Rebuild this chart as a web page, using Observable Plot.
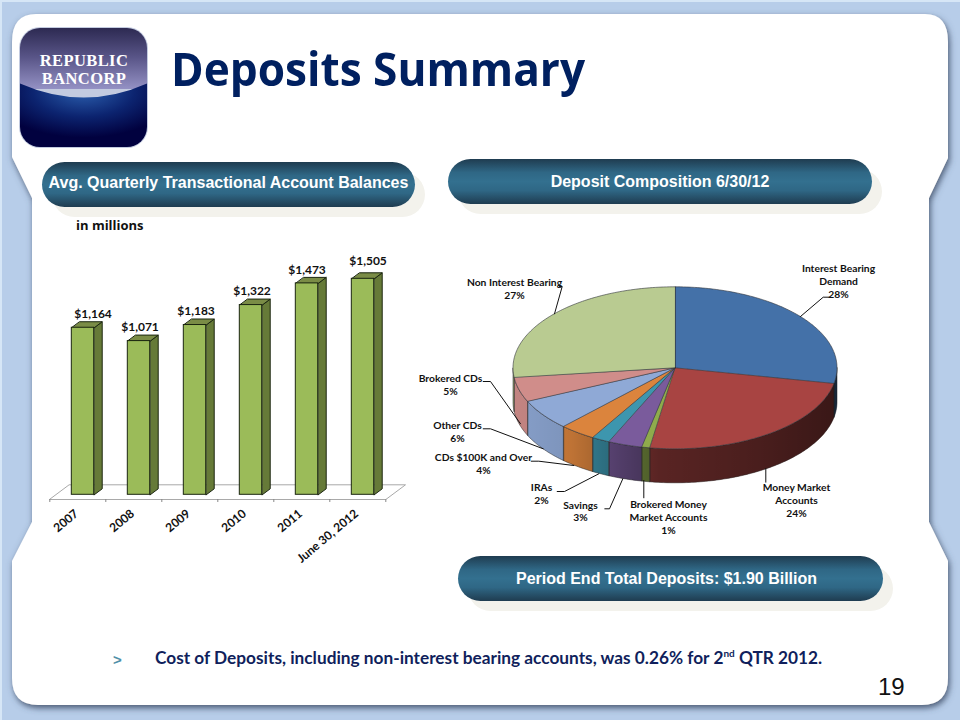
<!DOCTYPE html>
<html>
<head>
<meta charset="utf-8">
<script src="https://cdn.jsdelivr.net/npm/d3@7"></script>
<script src="https://cdn.jsdelivr.net/npm/@observablehq/plot@0.6"></script>
<style>
html,body{margin:0;padding:0;background:#b7cde9;}
#slide{position:relative;width:960px;height:720px;overflow:hidden;}
#slide>*{position:absolute;}
#bg{left:0;top:0;}
.pill{color:#fff;font-family:"Liberation Sans",sans-serif;font-weight:bold;text-align:center;border-radius:23px;
 background:linear-gradient(#1f3c50 0%,#2f6785 30%,#33708f 50%,#2f6785 70%,#1f3c50 100%);box-shadow:10px 10px 0 #f3f2ec;height:45px;line-height:45px;white-space:nowrap;}
#title{left:171px;top:33px;font:bold 46px "Open Sans",sans-serif;color:#002060;white-space:nowrap;line-height:70px;transform:scaleX(.96);transform-origin:left center;}
#units{left:76px;top:216px;font:bold 13px "Open Sans",sans-serif;color:#111;white-space:nowrap;}
#note{left:155px;top:647px;font:bold 17.25px Lato,sans-serif;color:#101f5c;white-space:nowrap;line-height:22px;}
#note sup{font-size:10px;line-height:0;}
#bullet{left:113px;top:651px;font:bold 15px "Liberation Sans",sans-serif;color:#4f8fa8;}
#page{left:878px;top:673px;font:24px "Liberation Sans",sans-serif;color:#111;line-height:28px;}
svg.chart{background:transparent;overflow:visible;}
</style>
</head>
<body>
<div id="slide">
<svg id="bg" width="960" height="720" viewBox="0 0 960 720">
 <defs>
  <filter id="ps" x="-5%" y="-5%" width="110%" height="110%"><feDropShadow dx="1.5" dy="3" stdDeviation="3" flood-color="#3d4d66" flood-opacity=".9"/></filter>
  <linearGradient id="logoTop" x1="0" y1="0" x2="0" y2="1"><stop offset="0" stop-color="#2b2850"/><stop offset=".5" stop-color="#5a5689"/><stop offset="1" stop-color="#9491c4"/></linearGradient>
  <radialGradient id="logoLow" cx=".5" cy=".12" r=".72"><stop offset="0" stop-color="#2b5fae"/><stop offset=".55" stop-color="#0c2470"/><stop offset="1" stop-color="#01013f"/></radialGradient>
  <clipPath id="lc"><rect x="20" y="28" width="127" height="119" rx="20"/></clipPath>
 </defs>
 <rect width="960" height="720" fill="#b7cde9"/>
 <path d="M0 0H960V2H2V720H0Z" fill="#d6e6f6"/>
 <path filter="url(#ps)" fill="#fff" d="M36 14H925Q948 14 948 42V158L929 198V522L948 561V678Q948 705 922 705H38Q12 705 12 678V561L32 522V198L12 157V42Q12 14 36 14Z"/>
 <rect x="19" y="27" width="129" height="121" rx="21" fill="#c3cbe0"/>
 <g clip-path="url(#lc)">
  <rect x="19" y="27" width="129" height="62" fill="url(#logoTop)"/>
  <path d="M19 83Q84 112 148 83V148H19Z" fill="url(#logoLow)"/>
 </g>
 <text text-anchor="middle" font-family="Liberation Serif" font-weight="bold" font-size="16.5" letter-spacing=".4" fill="#fff"><tspan x="84" y="65.5">REPUBLIC</tspan><tspan x="84" y="84">BANCORP</tspan></text>
</svg>
<div id="title">Deposits Summary</div>
<div class="pill" style="left:42px;top:162px;width:373px;font-size:16px;line-height:41px;">Avg. Quarterly Transactional Account Balances</div>
<div class="pill" style="left:448px;top:159px;width:424px;font-size:16px;">Deposit Composition 6/30/12</div>
<div class="pill" style="left:458px;top:556px;width:417px;padding-right:8px;font-size:16px;">Period End Total Deposits: $1.90 Billion</div>
<div id="units">in millions</div>
<div id="bullet">&gt;</div>
<div id="note">Cost of Deposits, including non-interest bearing accounts, was 0.26% for 2<sup>nd</sup> QTR 2012.</div>
<div id="page">19</div>
</div>
<script>
// ---------- data ----------
const barCategories = ["2007","2008","2009","2010","2011","June 30, 2012"];
const barValues = [1164,1071,1183,1322,1473,1505];
const pieCategories = ["Interest Bearing\nDemand","Money Market\nAccounts","Brokered Money\nMarket Accounts","Savings","IRAs","CDs $100K and Over","Other CDs","Brokered CDs","Non Interest Bearing"];
const pieValues = [28.1,24.4,0.8,3.4,1.8,3.6,6.1,4.9,26.9];
const pieColors = ["#4471a8","#a84442","#8fab4c","#7a5b9c","#3d96ae","#db843d","#8fa9d6","#d08d8a","#b9cb91"];

// ---------- layout (pixels on the slide) ----------
const labelFont = "Lato, sans-serif";
const barNudge = [[10,-14],[1,-13.7],[1,-13.7],[1,-13.7],[0,-13],[5,-18]];
const pieLabelAt = [[838,280.3],[796,499.3],[668,516.3],[580,510.3],[541,492.8],[483,462.8],[457,430.8],[450,383.8],[514,287.8]];
const pieLeaders = [
 [[800,316],[822.7,296.7],[829,296.7]],
 [[765.3,468],[765.3,481.7]],
 [[643.3,480],[643.3,497.3]],
 [[622.3,478.3],[609,508.3],[604.3,508.3]],
 [[598.3,473.3],[564,491],[556.7,491]],
 [[573.3,465],[538.3,460.7],[530.7,460.7]],
 [[542.7,448.3],[490,428.3],[482.7,428.3]],
 [[520,423.3],[490,381],[482.7,381]],
 [[554,313.3],[561.7,286],[559,286]]
];

// ---------- bar chart ----------
const slide = document.getElementById("slide");
const B = {left:20, top:240, w:400, h:340};
const pxPerUnit = 56, pxPerValue = 216/1505;
const depthX = 8/pxPerUnit, depthY = 6/pxPerValue;
const leftOf = .393, rightOf = .793;
const bars = barValues.map((v,i)=>({i, v, name:barCategories[i], x1:i+leftOf, x2:i+rightOf}));
const poly = (pts,fill,stroke,sw=1) => Plot.line(pts,{x:"0",y:"1",fill,stroke,strokeWidth:sw,curve:"linear-closed",strokeLinejoin:"round"});
const floorFront = -4.7/pxPerValue, floorBack = 10/pxPerValue;
const barStroke = "#1b2610";
const barPlot = Plot.plot({
  width:B.w, height:B.h, margin:0,
  x:{type:"linear", domain:[0,6], range:[49.3-B.left,385.3-B.left], axis:null},
  y:{type:"linear", domain:[0,1505], range:[494.3-B.top,278.3-B.top], axis:null},
  marks:[
    poly([[0,floorFront],[6,floorFront],[6+.352,floorBack],[.352,floorBack]],"#ffffff","#a9a9a9",1),
    Plot.ruleX(d3.range(7),{x:d=>d,y1:floorFront,y2:floorFront-3/pxPerValue,stroke:"#888",strokeWidth:1}),
    ...bars.flatMap(b=>[
      poly([[b.x2,0],[b.x2+depthX,depthY],[b.x2+depthX,b.v+depthY],[b.x2,b.v]],"#667a38",barStroke),
      poly([[b.x1,b.v],[b.x2,b.v],[b.x2+depthX,b.v+depthY],[b.x1+depthX,b.v+depthY]],"#7a8c46",barStroke),
    ]),
    Plot.rectY(bars,{x1:"x1",x2:"x2",y1:0,y2:"v",fill:"#9bbb59",stroke:barStroke,strokeWidth:1}),
    Plot.text(bars,{x:d=>d.i+.593+barNudge[d.i][0]/pxPerUnit,y:d=>d.v-barNudge[d.i][1]/pxPerValue,text:d=>"$"+d3.format(",")(d.v),fontFamily:labelFont,fontWeight:"bold",fontSize:12,fill:"#111"}),
    Plot.text(bars,{x:d=>d.i+.48,y:floorFront-12.5/pxPerValue,text:"name",rotate:-40,textAnchor:"end",fontFamily:labelFont,fontWeight:"bold",fontSize:12,fill:"#111"})
  ]
});
barPlot.setAttribute("class","chart");
barPlot.style.left=B.left+"px"; barPlot.style.top=B.top+"px";
slide.appendChild(barPlot);

// ---------- pie chart ----------
const P = {left:410, top:250, w:460, h:300};
const cx=674.5, cy=367.3, rx=162, ry=81, depth=34/ry;
const ux = px => (px-cx)/rx, uy = py => (cy-py)/ry;
const at = deg => {const a=deg*Math.PI/180; return [Math.sin(a),Math.cos(a)];};
const total = d3.sum(pieValues);
let acc = 0;
const slices = pieValues.map((v,i)=>{const s=acc/total*360; acc+=v; return {i,v,s,e:acc/total*360,color:pieColors[i]};});
const arc = (s,e) => {const n=Math.max(2,Math.ceil(e-s)+1); return d3.range(n).map(k=>at(s+(e-s)*k/(n-1)));};
const sidePts = (s,e) => {
  const a=Math.max(s,90), b=Math.min(e,270);
  if (b<=a) return null;
  const top=arc(a,b);
  return [...top, ...top.slice().reverse().map(([x,y])=>[x,y-depth])];
};
const sides = slices.map(d=>({d,pts:sidePts(d.s,d.e)})).filter(o=>o.pts);
const shade = ()=>{
  const defs=d3.create("svg:defs");
  const g=defs.append("linearGradient").attr("id","pieShade").attr("gradientUnits","userSpaceOnUse")
    .attr("x1",cx-rx-P.left).attr("x2",cx+rx-P.left).attr("y1",0).attr("y2",0);
  [[0,.06],[.18,.13],[.33,.33],[.45,.47],[.75,.56],[1,.66]].forEach(([o,a])=>g.append("stop").attr("offset",o).attr("stop-color","#000").attr("stop-opacity",a));
  return defs.node();
};
const pieLabels = slices.map(d=>({x:ux(pieLabelAt[d.i][0]),y:uy(pieLabelAt[d.i][1]),t:`${pieCategories[d.i]}\n${Math.round(d.v)}%`}));
const piePlot = Plot.plot({
  width:P.w, height:P.h, margin:0,
  x:{type:"linear", domain:[-1,1], range:[cx-rx-P.left,cx+rx-P.left], axis:null},
  y:{type:"linear", domain:[-1,1], range:[cy+ry-P.top,cy-ry-P.top], axis:null},
  marks:[
    shade,
    ...sides.map(o=>poly(o.pts,o.d.color,"none")),
    ...sides.map(o=>poly(o.pts,"url(#pieShade)","#222",.5)),
    ...slices.map(d=>poly([[0,0],...arc(d.s,d.e)],d.color,"#30343a",.6)),
    ...pieLeaders.map(l=>Plot.line(l.map(([x,y])=>[ux(x),uy(y)]),{x:"0",y:"1",stroke:"#111",strokeWidth:1})),
    Plot.text(pieLabels,{x:"x",y:"y",text:"t",lineHeight:1.24,fontFamily:labelFont,fontWeight:"bold",fontSize:10.3,fill:"#111"})
  ]
});
piePlot.setAttribute("class","chart");
piePlot.style.left=P.left+"px"; piePlot.style.top=P.top+"px";
slide.appendChild(piePlot);
</script>
</body>
</html>
